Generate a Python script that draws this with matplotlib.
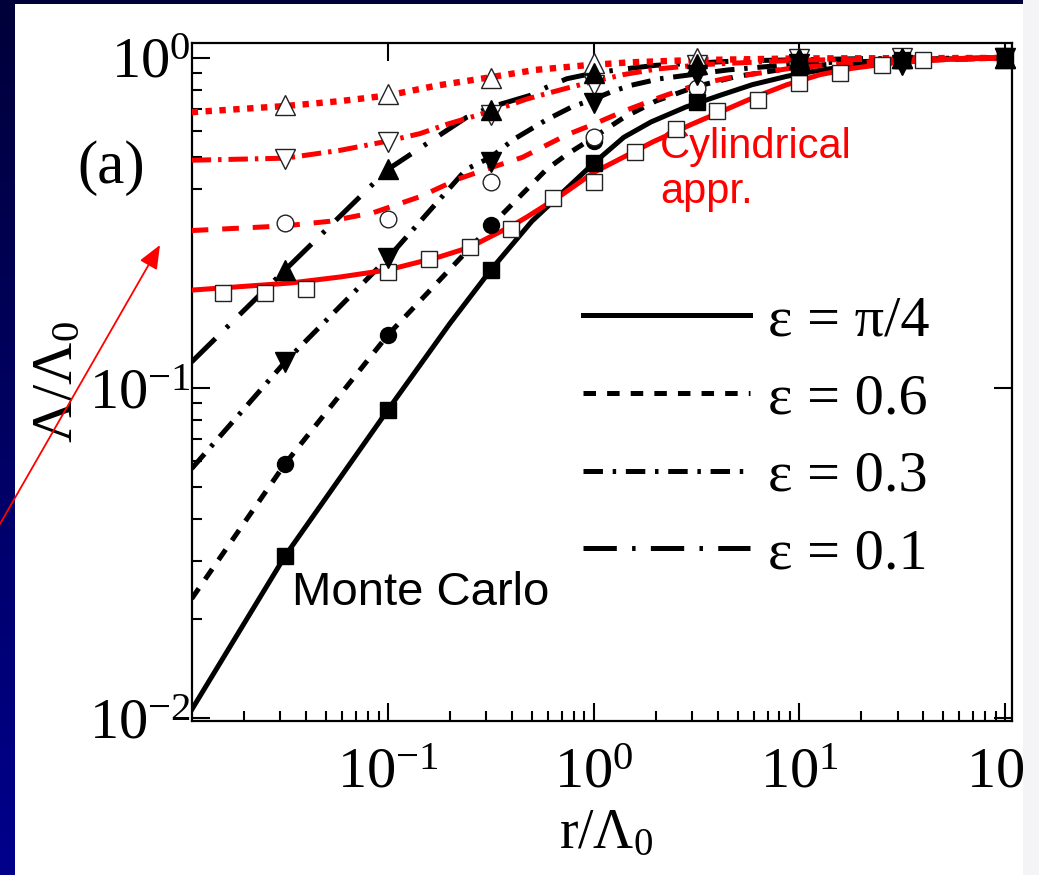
import numpy as np
import matplotlib.pyplot as plt
from matplotlib.patches import Rectangle
from matplotlib.colors import LinearSegmentedColormap
from matplotlib.ticker import FixedLocator, FixedFormatter, LogLocator, NullFormatter

plt.rcParams['font.family'] = ['Liberation Serif', 'DejaVu Serif']
plt.rcParams['mathtext.fontset'] = 'custom'
plt.rcParams['mathtext.rm'] = 'Liberation Serif'
plt.rcParams['mathtext.it'] = 'Liberation Serif:italic'
plt.rcParams['mathtext.bf'] = 'Liberation Serif:bold'
plt.rcParams['lines.scale_dashes'] = False

# ---- curves (r/Lambda0, Lambda/Lambda0) ----
# black lines
x_pi4 = [0.0111, 0.0316, 0.1, 0.2, 0.316, 0.5, 1.0, 1.4, 1.9, 2.8, 4.1, 5.9, 8.7, 11.6, 20, 40, 100]
y_pi4 = [0.0106, 0.031, 0.086, 0.157, 0.228, 0.32, 0.48, 0.575, 0.64, 0.71, 0.77, 0.83, 0.88, 0.91, 0.96, 0.99, 1.0]

x_06 = [0.0111, 0.0316, 0.1, 0.316, 0.59, 0.74, 1.0, 1.4, 2.0, 3.16, 5.0, 10, 20, 100]
y_06 = [0.023, 0.059, 0.145, 0.31, 0.46, 0.51, 0.575, 0.66, 0.74, 0.82, 0.88, 0.94, 0.975, 1.0]

x_03 = [0.0111, 0.0316, 0.1, 0.24, 0.316, 0.405, 0.59, 0.78, 1.0, 1.22, 1.5, 2.1, 4.5, 10, 30, 100]
y_03 = [0.057, 0.12, 0.248, 0.46, 0.50, 0.565, 0.65, 0.71, 0.75, 0.79, 0.825, 0.865, 0.92, 0.96, 0.99, 1.0]

x_01 = [0.0111, 0.0316, 0.1, 0.24, 0.316, 0.49, 0.59, 0.74, 1.0, 1.39, 2.0, 5.0, 20, 100]
y_01 = [0.12, 0.228, 0.46, 0.66, 0.71, 0.77, 0.815, 0.865, 0.90, 0.925, 0.95, 0.98, 0.995, 1.0]

# red lines (cylindrical approximation)
xc_pi4 = [0.0111, 0.0334, 0.0585, 0.1, 0.179, 0.25, 0.313, 0.4, 0.474, 0.7, 1.0, 1.39, 1.94, 3.0, 4.1,
          5.94, 8.7, 12.6, 18, 28.5, 50, 100]
yc_pi4 = [0.198, 0.208, 0.217, 0.228, 0.25, 0.267, 0.287, 0.31, 0.33, 0.385, 0.45, 0.50, 0.557, 0.63, 0.685,
          0.757, 0.83, 0.89, 0.93, 0.965, 0.99, 1.0]

xc_06 = [0.0111, 0.0316, 0.052, 0.085, 0.1, 0.143, 0.22, 0.316, 0.45, 0.74, 1.0, 1.4, 2.1, 3.16, 4.5, 9.0, 20, 100]
yc_06 = [0.30, 0.31, 0.32, 0.34, 0.352, 0.38, 0.43, 0.465, 0.50, 0.585, 0.63, 0.69, 0.76, 0.83, 0.87, 0.93, 0.97, 1.0]

xc_03 = [0.0111, 0.0316, 0.0585, 0.1, 0.143, 0.194, 0.25, 0.378, 0.47, 0.59, 0.74, 0.93, 1.39, 2.0, 3.4, 10, 100]
yc_03 = [0.49, 0.497, 0.525, 0.56, 0.59, 0.63, 0.66, 0.715, 0.75, 0.78, 0.81, 0.84, 0.89, 0.925, 0.955, 0.985, 1.0]

xc_01 = [0.0111, 0.0316, 0.0585, 0.1, 0.173, 0.3, 0.52, 0.91, 1.5, 3.0, 10, 100]
yc_01 = [0.685, 0.715, 0.74, 0.77, 0.825, 0.87, 0.92, 0.95, 0.97, 0.985, 0.997, 1.0]

# Monte Carlo symbols
mc_x = [0.0316, 0.1, 0.316, 1.0, 3.16, 10, 31.6, 100]
mc_pi4 = [0.031, 0.086, 0.228, 0.48, 0.736, 0.94, 0.985, 1.0]
mc_06 = [0.059, 0.145, 0.312, 0.56, 0.80, 0.95, 0.985, 1.0]
mc_03 = [0.12, 0.248, 0.485, 0.73, 0.89, 0.96, 0.95, 1.0]
mc_01 = [0.228, 0.46, 0.695, 0.90, 0.96, 0.99, 1.0, 1.0]

mcc_06 = [0.316, 0.325, 0.42, 0.577, 0.81, 0.96, 0.99, 1.0]
mcc_03 = [0.494, 0.556, 0.67, 0.83, 0.95, 0.99, 1.0, 1.0]
mcc_01 = [0.72, 0.78, 0.87, 0.965, 1.0, 1.0, 1.0, 1.0]

sq_x = [0.0158, 0.0251, 0.0398, 0.1, 0.158, 0.251, 0.398, 0.631, 1.0, 1.58,
        2.51, 3.98, 6.31, 10, 15.8, 25.1, 39.8, 100]
sq_y = [0.194, 0.194, 0.20, 0.225, 0.246, 0.268, 0.303, 0.377, 0.42, 0.52,
        0.61, 0.69, 0.746, 0.84, 0.90, 0.95, 0.986, 1.0]

labels = ['ε = π/4', 'ε = 0.6', 'ε = 0.3', 'ε = 0.1']
xticks = [0.1, 1, 10, 100]
xtick_labels = [r'$\mathregular{10^{-1}}$', r'$\mathregular{10^{0}}$',
                r'$\mathregular{10^{1}}$', r'$\mathregular{10^{2}}$']
yticks = [0.01, 0.1, 1]
ytick_labels = [r'$\mathregular{10^{-2}}$', r'$\mathregular{10^{-1}}$', r'$\mathregular{10^{0}}$']

W, H = 1039, 875
fig = plt.figure(figsize=(W / 100, H / 100), dpi=100)

# slide background
bg = fig.add_axes([0, 0, 1, 1], zorder=-5)
bg.set_axis_off()
navy = LinearSegmentedColormap.from_list('navy', ['#00003a', '#00008c'])
bg.imshow(np.linspace(0, 1, 256).reshape(-1, 1), cmap=navy, aspect='auto',
          extent=[0, W, H, 0])
bg.add_patch(Rectangle((15, 4), 1008, H - 4, facecolor='white', edgecolor='none'))
bg.set_xlim(0, W)
bg.set_ylim(H, 0)
fig.add_artist(Rectangle((1023 / W, 0), 16 / W, 1, transform=fig.transFigure,
                         facecolor='#f4f4f6', edgecolor='none', zorder=10))

ax = fig.add_axes([192 / W, (H - 721) / H, 820 / W, 678 / H])
ax.set_facecolor('none')
ax.set_xscale('log')
ax.set_yscale('log')

lw = 3.6
l1, = ax.plot(x_pi4, y_pi4, color='black', lw=lw, label=labels[0], zorder=2)
l2, = ax.plot(x_06, y_06, color='black', lw=lw, ls=(0, (9, 8)), label=labels[1], zorder=2)
l3, = ax.plot(x_03, y_03, color='black', lw=lw, ls=(0, (14, 7, 2.5, 7)), label=labels[2], zorder=2)
l4, = ax.plot(x_01, y_01, color='black', lw=lw, ls=(0, (24, 11, 2.5, 11)), label=labels[3], zorder=2)

ax.plot(xc_pi4, yc_pi4, color='red', lw=lw, zorder=3)
ax.plot(xc_06, yc_06, color='red', lw=lw, ls=(0, (12, 10)), zorder=3)
ax.plot(xc_03, yc_03, color='red', lw=lw, ls=(0, (14, 5, 2.5, 5)), zorder=3)
ax.plot(xc_01, yc_01, color='red', lw=4.6, ls=(0, (4.6, 5.4)), zorder=3)

# filled symbols
ax.plot(mc_x, mc_06, ls='none', marker='o', ms=11.5, color='black', zorder=3.5)
ax.plot(mc_x, mc_pi4, ls='none', marker='s', ms=11, color='black', zorder=5, clip_on=False)
ax.plot(mc_x, mc_03, ls='none', marker='v', ms=14, color='black', zorder=5, clip_on=False)
ax.plot(mc_x, mc_01, ls='none', marker='^', ms=14, color='black', zorder=5, clip_on=False)
# open symbols
ax.plot(sq_x, sq_y, ls='none', marker='s', ms=11, mfc='white', mec='#222222', mew=1.0, zorder=4)
ax.plot(mc_x, mcc_06, ls='none', marker='o', ms=12, mfc='white', mec='#222222', mew=1.0, zorder=4)
ax.plot(mc_x, mcc_03, ls='none', marker='v', ms=14, mfc='white', mec='#222222', mew=1.0, zorder=4)
ax.plot(mc_x, mcc_01, ls='none', marker='^', ms=14, mfc='white', mec='#222222', mew=1.0, zorder=4,
        clip_on=False)

ax.set_xlim(0.01114, 108)
ax.set_ylim(0.0098, 1.11)

ax.xaxis.set_major_locator(FixedLocator(xticks))
ax.xaxis.set_major_formatter(FixedFormatter(xtick_labels))
ax.yaxis.set_major_locator(FixedLocator(yticks))
ax.yaxis.set_major_formatter(FixedFormatter(ytick_labels))
ax.xaxis.set_minor_locator(LogLocator(base=10, subs=np.arange(2, 10), numticks=20))
ax.yaxis.set_minor_locator(LogLocator(base=10, subs=np.arange(2, 10), numticks=20))
ax.xaxis.set_minor_formatter(NullFormatter())
ax.yaxis.set_minor_formatter(NullFormatter())

ax.tick_params(which='major', direction='in', length=13, width=1.5, top=True, right=True,
               labelsize=42, colors='black')
ax.tick_params(which='minor', direction='in', length=7, width=1.5, top=False, right=False)
ax.tick_params(axis='x', which='major', pad=19)
ax.tick_params(axis='y', which='major', pad=1)
for s in ax.spines.values():
    s.set_linewidth(1.6)

ax.set_xlabel('r/Λ$_0$', fontsize=40)
ax.xaxis.set_label_coords(0.505, -0.128)
ax.set_ylabel('Λ/Λ$_0$', fontsize=42)
ax.yaxis.set_label_coords(-0.132, 0.5)

ax.legend(handles=[l1, l2, l3, l4], loc='center left', bbox_to_anchor=(0.477, 0.418),
          frameon=False, fontsize=42, handlelength=2.86, handletextpad=0.31,
          labelspacing=0.43, borderpad=0, borderaxespad=0)

ax.text(0.122, 0.171, 'Monte Carlo', family='Liberation Sans', fontsize=34,
        va='baseline', ha='left', transform=ax.transAxes)
ax.text(0.571, 0.876, 'Cylindrical\nappr.', family='Liberation Sans', fontsize=30,
        color='red', va='top', ha='left', linespacing=1.15, transform=ax.transAxes)
fig.text(111 / W, 1 - 168 / H, '(a)', fontsize=44, ha='center', va='center')

ax.annotate('', xy=(160, H - 245), xycoords='figure pixels',
            xytext=(0, H - 524), textcoords='figure pixels',
            arrowprops=dict(arrowstyle='-|>,head_length=0.6,head_width=0.25',
                            color='red', lw=1.3, mutation_scale=24,
                            shrinkA=0, shrinkB=0),
            annotation_clip=False)

fig.savefig('out.png', dpi=100)
